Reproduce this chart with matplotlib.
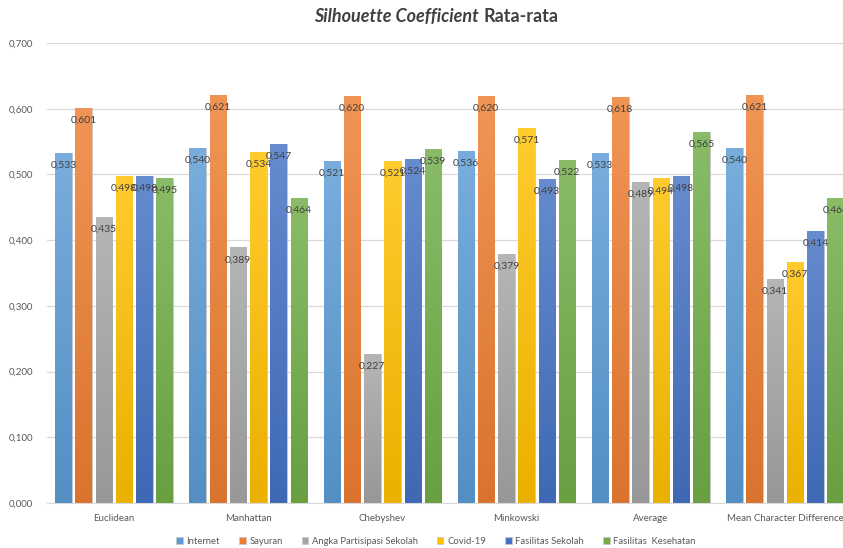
import numpy as np
import matplotlib
matplotlib.use("Agg")
import matplotlib.pyplot as plt
from matplotlib.colors import to_rgb

# data
categories = ["Euclidean", "Manhattan", "Chebyshev", "Minkowski", "Average",
              "Mean Character Difference"]
series_names = ["Internet", "Sayuran", "Angka Partisipasi Sekolah", "Covid-19",
                "Fasilitas Sekolah", "Fasilitas  Kesehatan"]
internet = [0.533, 0.540, 0.521, 0.536, 0.533, 0.540]
sayuran = [0.601, 0.621, 0.620, 0.620, 0.618, 0.621]
angka = [0.435, 0.389, 0.227, 0.379, 0.489, 0.341]
covid = [0.498, 0.534, 0.521, 0.571, 0.494, 0.367]
fas_sekolah = [0.498, 0.547, 0.524, 0.493, 0.498, 0.414]
fas_kesehatan = [0.495, 0.464, 0.539, 0.522, 0.565, 0.464]
yticks = [0.0, 0.1, 0.2, 0.3, 0.4, 0.5, 0.6, 0.7]

series = [internet, sayuran, angka, covid, fas_sekolah, fas_kesehatan]
colors = ["#5B9BD5", "#ED7D31", "#A5A5A5", "#FFC000", "#4472C4", "#70AD47"]

plt.rcParams['font.family'] = ['Lato', 'DejaVu Sans']

fig = plt.figure(figsize=(8.43, 5.48), dpi=100)
W, H = 843, 548
ax = fig.add_axes([47 / W, 45 / H, 805 / W, 460 / H])

x = np.arange(len(categories))
pitch = 0.151
width = 0.123


def shade(c, f):
    r = np.array(to_rgb(c))
    if f > 0:
        return r + (1 - r) * f
    return r * (1 + f)


for i, (vals, col) in enumerate(zip(series, colors)):
    pos = x + (i - 2.5) * pitch
    bars = ax.bar(pos, vals, width, color=col, label=series_names[i],
                  edgecolor="#c8c8c8", linewidth=0.6, zorder=2)
    # soft vertical gradient like the original
    grad = np.linspace(0, 1, 64).reshape(-1, 1)
    top, bot = shade(col, 0.18), shade(col, -0.08)
    img = bot[None, None, :] * (1 - grad[:, :, None]) + top[None, None, :] * grad[:, :, None]
    for b, v, p in zip(bars, vals, pos):
        im = ax.imshow(img, extent=[p - width / 2, p + width / 2, 0, v],
                       origin="lower", aspect="auto", zorder=2.5)
        im.set_clip_path(b)
        ax.annotate(f"{v:.3f}".replace(".", ","), (p, v), xytext=(0, -9),
                    textcoords="offset points", ha="center", va="center",
                    fontsize=7.5, color="#404040", zorder=4)

ax.set_xlim(-0.5, 5.5)
ax.set_ylim(0, 0.7)
ax.set_yticks(yticks)
ax.set_yticklabels([f"{t:.3f}".replace(".", ",") for t in yticks])
ax.set_xticks(x)
ax.set_xticklabels(categories)
ax.tick_params(axis="both", length=0, labelsize=7, labelcolor="#595959")
ax.tick_params(axis="y", pad=10)
ax.tick_params(axis="x", pad=8)
ax.grid(axis="y", color="#d9d9d9", linewidth=0.9, zorder=0)
ax.set_axisbelow(True)
for s in ["top", "right", "left"]:
    ax.spines[s].set_visible(False)
ax.spines["bottom"].set_color("#d9d9d9")

fig.text(479 / W, 1 - 17 / H, "Silhouette Coefficient", ha="right", va="center",
         fontsize=13, fontweight="bold", style="italic", color="#404040")
fig.text(483 / W, 1 - 17 / H, "Rata-rata", ha="left", va="center",
         fontsize=13, fontweight="bold", color="#404040")

fig.legend(loc="center", bbox_to_anchor=(436 / W, 1 - 541 / H), ncol=6,
           frameon=False, fontsize=6.8, handlelength=0.7, handleheight=0.7,
           handletextpad=0.4, columnspacing=2.0, labelcolor="#595959")

fig.savefig("out.png", dpi=100)
